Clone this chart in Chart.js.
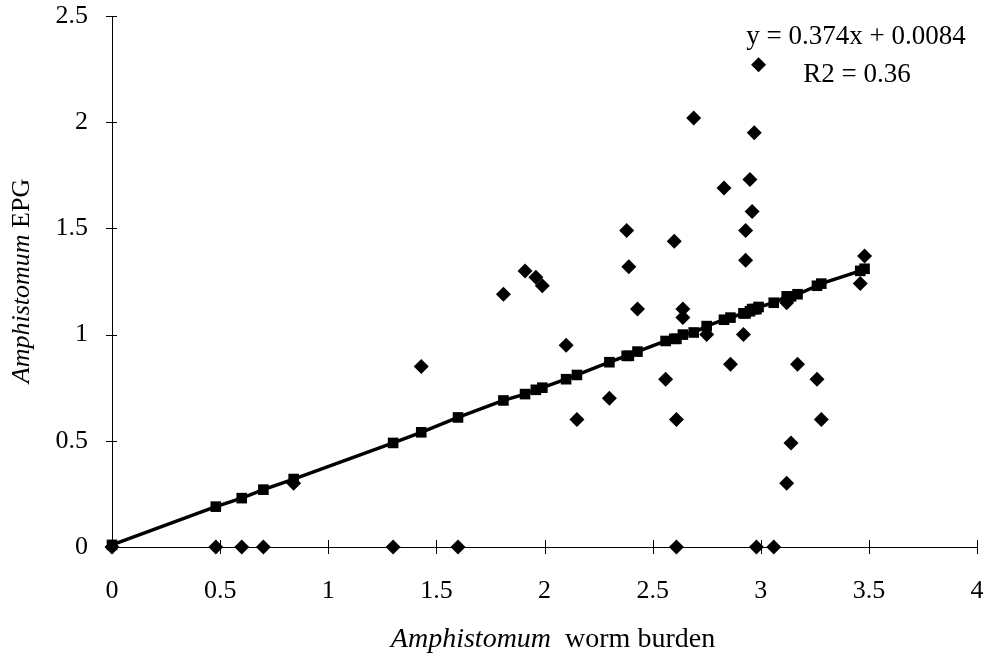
<!DOCTYPE html>
<html>
<head>
<meta charset="utf-8">
<title>Amphistomum EPG vs worm burden</title>
<script src="https://cdn.jsdelivr.net/npm/chart.js@4.4.1/dist/chart.umd.min.js"></script>
<style>
  html, body { margin: 0; padding: 0; background: #fff; }
  #wrap { width: 997px; height: 665px; }
</style>
</head>
<body>
<div id="wrap"><canvas id="scatterChart" width="997" height="665"></canvas></div>
<script>
// observed animals: worm burden (x) and EPG (y)
const burden = [0, 0.48, 0.60, 0.70, 0.84, 1.30, 1.43, 1.60, 1.81, 1.91,
  1.96, 1.99, 2.10, 2.15, 2.30, 2.38, 2.39, 2.43, 2.56, 2.60,
  2.61, 2.61, 2.64, 2.64, 2.69, 2.75, 2.83, 2.86, 2.92, 2.93,
  2.93, 2.95, 2.96, 2.97, 2.98, 2.99, 3.06, 3.12, 3.12, 3.14,
  3.17, 3.26, 3.28, 3.46, 3.48];
const epg = [0, 0, 0, 0, 0.30, 0, 0.85, 0, 1.19, 1.30,
  1.27, 1.23, 0.95, 0.60, 0.70, 1.49, 1.32, 1.12, 0.79, 1.44,
  0.60, 0, 1.12, 1.08, 2.02, 1.00, 1.69, 0.86, 1.00, 1.49,
  1.35, 1.73, 1.58, 1.95, 0, 2.27, 0, 1.15, 0.30, 0.49,
  0.86, 0.79, 0.60, 1.24, 1.37];

// fitted values (squares on the regression line)
const fitBurden = [0, 0.48, 0.60, 0.70, 0.84, 1.30, 1.43, 1.60, 1.81, 1.91,
  1.96, 1.99, 2.10, 2.15, 2.30, 2.38, 2.39, 2.43, 2.56, 2.60,
  2.61, 2.64, 2.69, 2.75, 2.83, 2.86, 2.92, 2.93, 2.95, 2.96,
  2.97, 2.98, 2.99, 3.06, 3.12, 3.14, 3.17, 3.26, 3.28, 3.46, 3.48];
const fitEpg = [0.01, 0.19, 0.23, 0.27, 0.32, 0.49, 0.54, 0.61, 0.69, 0.72,
  0.74, 0.75, 0.79, 0.81, 0.87, 0.90, 0.90, 0.92, 0.97, 0.98,
  0.98, 1.00, 1.01, 1.04, 1.07, 1.08, 1.10, 1.10, 1.11, 1.12,
  1.12, 1.12, 1.13, 1.15, 1.18, 1.18, 1.19, 1.23, 1.24, 1.30, 1.31];

const xTickValues = [0, 0.5, 1, 1.5, 2, 2.5, 3, 3.5, 4];
const yTickValues = [0, 0.5, 1, 1.5, 2, 2.5];

const xTitle = ['Amphistomum', '  worm burden'];
const yTitle = ['Amphistomum', ' EPG'];
const equation = 'y = 0.374x + 0.0084';
const rSquared = 'R2 = 0.36';

const SERIF = "'Liberation Serif', 'Times New Roman', serif";

// title with italic genus name, drawn in pieces
function drawMixed(ctx, parts, size, cx, cy) {
  const fonts = ['italic ' + size + 'px ' + SERIF, size + 'px ' + SERIF];
  let total = 0;
  const widths = parts.map((p, i) => {
    ctx.font = fonts[i];
    const w = ctx.measureText(p).width;
    total += w;
    return w;
  });
  let x = cx - total / 2;
  ctx.textAlign = 'left';
  ctx.textBaseline = 'middle';
  parts.forEach((p, i) => {
    ctx.font = fonts[i];
    ctx.fillText(p, x, cy);
    x += widths[i];
  });
}

const decor = {
  id: 'decor',
  afterDraw(chart) {
    const { ctx, chartArea, scales } = chart;
    const { x, y } = scales;
    ctx.save();
    ctx.strokeStyle = '#000';
    ctx.lineWidth = 1;
    ctx.beginPath();
    xTickValues.forEach(v => {
      const px = Math.round(x.getPixelForValue(v)) + 0.5;
      ctx.moveTo(px, chartArea.bottom - 7);
      ctx.lineTo(px, chartArea.bottom + 7);
    });
    yTickValues.forEach(v => {
      const py = Math.round(y.getPixelForValue(v)) + 0.5;
      ctx.moveTo(chartArea.left - 6, py);
      ctx.lineTo(chartArea.left + 5, py);
    });
    ctx.stroke();

    ctx.fillStyle = '#000';
    drawMixed(ctx, xTitle, 28, 553, 640);

    ctx.translate(22, 281);
    ctx.rotate(-Math.PI / 2);
    drawMixed(ctx, yTitle, 26, 0, 0);
    ctx.restore();

    ctx.save();
    ctx.fillStyle = '#000';
    ctx.font = '27px ' + SERIF;
    ctx.textAlign = 'center';
    ctx.textBaseline = 'middle';
    ctx.fillText(equation, 856, 37);
    ctx.fillText(rSquared, 857, 75);
    ctx.restore();
  }
};

document.addEventListener('DOMContentLoaded', () => {
  const canvas = document.getElementById('scatterChart');
  if (!canvas) return;

  const ctx = canvas.getContext('2d');
  new Chart(ctx, {
    type: 'scatter',
    data: {
      datasets: [
        {
          label: 'Fitted',
          data: fitBurden.map((b, i) => ({ x: b, y: fitEpg[i] })),
          showLine: true,
          borderColor: '#000',
          borderWidth: 3.5,
          backgroundColor: '#000',
          pointStyle: 'rect',
          pointRadius: 7.5,
          pointHoverRadius: 7.5,
          pointBorderWidth: 0,
          clip: false
        },
        {
          label: 'Observed',
          data: burden.map((b, i) => ({ x: b, y: epg[i] })),
          backgroundColor: '#000',
          borderColor: '#000',
          pointStyle: 'rectRot',
          pointRadius: 7.5,
          pointHoverRadius: 7.5,
          pointBorderWidth: 0,
          clip: false
        }
      ]
    },
    options: {
      responsive: false,
      animation: false,
      layout: { autoPadding: false, padding: { left: 0, right: 20, top: 16, bottom: 0 } },
      plugins: {
        legend: { display: false },
        tooltip: { enabled: false }
      },
      scales: {
        x: {
          type: 'linear',
          min: 0,
          max: 4,
          afterBuildTicks: s => { s.ticks = xTickValues.map(v => ({ value: v })); },
          afterFit: s => {
            s.height = 118;
            s.paddingLeft = 0;
            s.paddingRight = 0;
          },
          grid: { display: false, drawTicks: false },
          border: { display: true, color: '#000', width: 1 },
          ticks: {
            color: '#000',
            padding: 29,
            maxRotation: 0,
            callback: v => String(v),
            font: { family: SERIF, size: 26 }
          }
        },
        y: {
          type: 'linear',
          min: 0,
          max: 2.5,
          afterBuildTicks: s => { s.ticks = yTickValues.map(v => ({ value: v })); },
          afterFit: s => {
            s.width = 112;
            s.paddingTop = 0;
            s.paddingBottom = 0;
          },
          grid: { display: false, drawTicks: false },
          border: { display: true, color: '#000', width: 1 },
          ticks: {
            color: '#000',
            padding: 24,
            callback: v => String(v),
            font: { family: SERIF, size: 26 }
          }
        }
      }
    },
    plugins: [decor]
  });
});
</script>
</body>
</html>
